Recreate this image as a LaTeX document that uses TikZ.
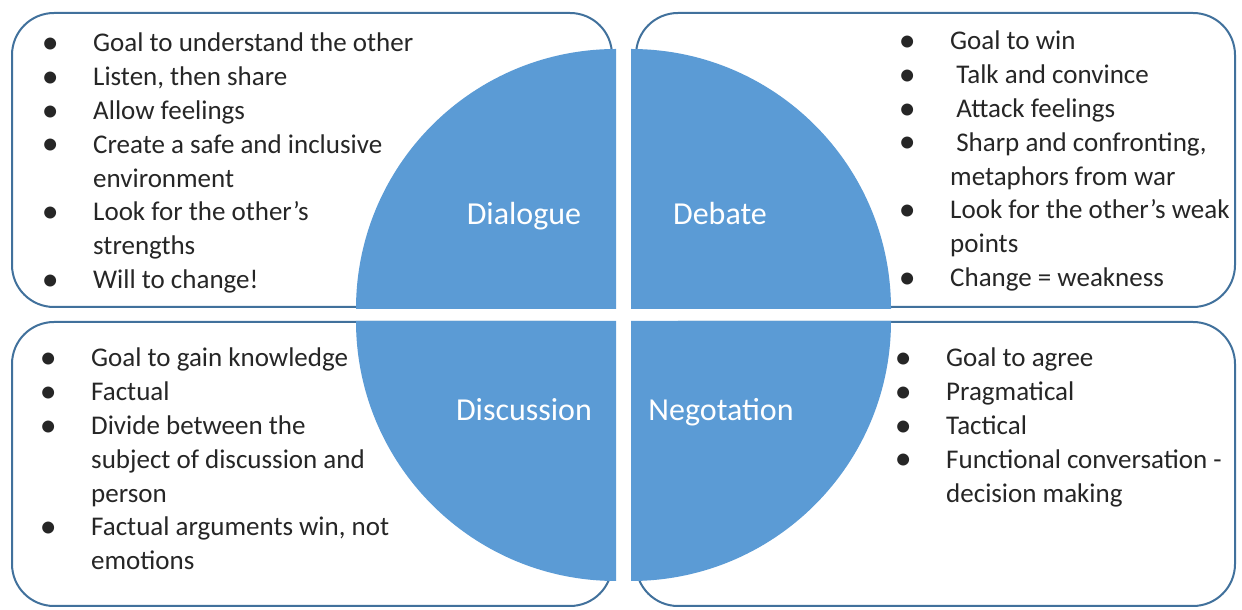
\documentclass[tikz,border=0pt]{standalone}
\usepackage{fontspec}
\setmainfont{Carlito}
\definecolor{qfill}{HTML}{5B9BD5}
\definecolor{qline}{HTML}{41719C}
\definecolor{qtext}{HTML}{262626}
\newcommand{\bl}{\makebox[12pt]{\raisebox{-1.5pt}{\scalebox{1.25}{•}}}}
\newenvironment{blist}{\begin{tabular}[t]{@{}c@{\hspace{37pt}}l@{}}}{\end{tabular}}

\begin{document}
\begin{tikzpicture}[x=1pt,y=1pt,
    panel/.style={draw=qline,line width=2pt,fill=white,rounded corners=42pt},
    quad/.style={fill=qfill},
    pts/.style={anchor=base west,inner sep=0pt,text=qtext,font=\fontsize{27}{33.8}\selectfont},
    lbl/.style={anchor=base,inner sep=0pt,text=white,font=\fontsize{32}{38}\selectfont}]
    \useasboundingbox (0,0) rectangle (1242,610);
    \draw[panel] (12,303) rectangle (612,597);
    \draw[panel] (636,303) rectangle (1235,597);
    \draw[panel] (12,4) rectangle (612,288);
    \draw[panel] (636,4) rectangle (1235,288);
    \fill[quad] (616,301)--(356,301) arc[start angle=180,end angle=90,radius=260]--cycle;
    \fill[quad] (631,301)--(631,561) arc[start angle=90,end angle=0,radius=260]--cycle;
    \fill[quad] (616,289)--(356,289) arc[start angle=180,end angle=270,radius=260]--cycle;
    \fill[quad] (631,289)--(891,289) arc[start angle=0,end angle=-90,radius=260]--cycle;
    \node[lbl] (dialogue) at (524,385) {Dialogue};
    \node[lbl] (debate) at (720,385) {Debate};
    \node[lbl] (discussion) at (524,189) {Discussion};
    \node[lbl] (negotation) at (721,189) {Negotation};
    \node[pts] (dialoguepts) at (44,558) {\begin{blist}
        \bl & Goal to understand the other\\
        \bl & Listen, then share\\
        \bl & Allow feelings\\
        \bl & Create a safe and inclusive\\
            & environment\\
        \bl & Look for the other’s\\
            & strengths\\
        \bl & Will to change!
    \end{blist}};
    \node[pts] (debatepts) at (901,560) {\begin{blist}
        \bl & Goal to win\\
        \bl & \ Talk and convince\\
        \bl & \ Attack feelings\\
        \bl & \ Sharp and confronting,\\
            & metaphors from war\\
        \bl & Look for the other’s weak\\
            & points\\
        \bl & Change = weakness
    \end{blist}};
    \node[pts] (discussionpts) at (42,243) {\begin{blist}
        \bl & Goal to gain knowledge\\
        \bl & Factual\\
        \bl & Divide between the\\
            & subject of discussion and\\
            & person\\
        \bl & Factual arguments win, not\\
            & emotions
    \end{blist}};
    \node[pts] (negotationpts) at (897,243) {\begin{blist}
        \bl & Goal to agree\\
        \bl & Pragmatical\\
        \bl & Tactical\\
        \bl & Functional conversation -\\
            & decision making
    \end{blist}};
\end{tikzpicture}
\end{document}
